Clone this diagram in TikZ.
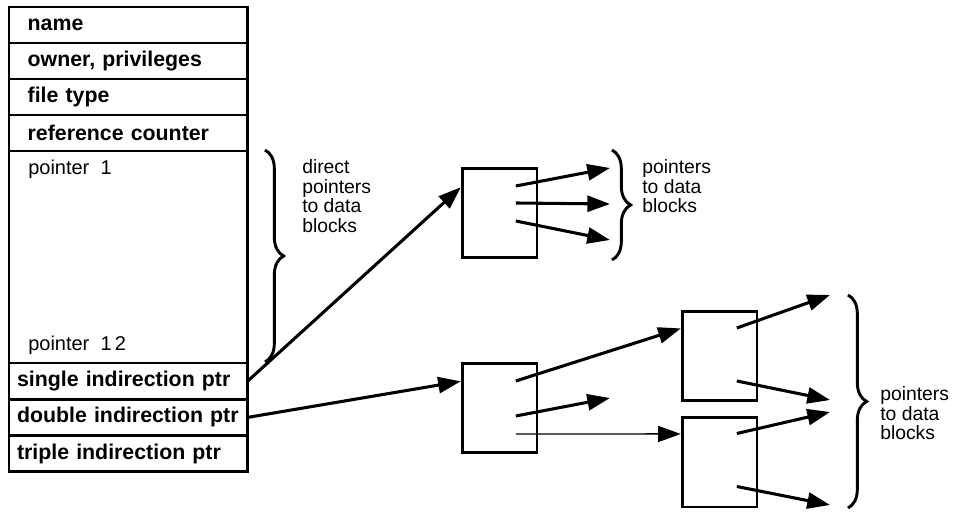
\documentclass[tikz,border=0pt]{standalone}
\usepackage{fontspec}
\setmainfont{Liberation Sans}
\usetikzlibrary{arrows.meta,positioning,calc,decorations.pathreplacing}

\begin{document}
\begin{tikzpicture}[x=0.75pt,y=-0.75pt,>={Triangle[length=17pt,width=12pt]},node distance=0pt]
  \tikzstyle{field}=[draw,line width=2.2pt,outer sep=0pt,text width=151pt,align=left,inner xsep=14pt,inner ysep=0pt,minimum height=27pt,font=\fontsize{16}{18}\selectfont\bfseries]
  \tikzstyle{lowfield}=[field,text width=167pt,inner xsep=6pt,minimum height=27.2pt]
  \tikzstyle{blk}=[draw,line width=2pt,minimum width=56pt,minimum height=67pt]
  \tikzstyle{ptr}=[->,line width=2.3pt]
  \tikzstyle{note}=[align=left,inner sep=0pt,font=\fontsize{14.5}{14.8}\selectfont]
  \tikzstyle{brc}=[decorate,decoration={brace,amplitude=14pt},line width=2.2pt]
  \useasboundingbox (0,0) rectangle (965,513);
  % inode table
  \node[field,anchor=north west] (name) at (9,7) {name};
  \node[field,below=of name] (owner) {owner, privileges};
  \node[field,below=of owner] (ftype) {file type};
  \node[field,below=of ftype] (refcnt) {reference counter};
  \node[field,below=of refcnt,minimum height=159pt] (ptrs) {};
  \node[lowfield,below=of ptrs] (single) {single indirection ptr};
  \node[lowfield,below=of single] (double) {double indirection ptr};
  \node[lowfield,below=of double] (triple) {triple indirection ptr};
  \node[anchor=north west,inner sep=0pt,font=\fontsize{15}{16}\selectfont] (p1) at ([shift={(19,9)}]ptrs.north west) {pointer\ \ 1};
  \node[anchor=south west,inner sep=0pt,font=\fontsize{15}{16}\selectfont] (p12) at ([shift={(19,-8)}]ptrs.south west) {pointer\ \ 1\,2};
  % braces and their labels
  \draw[brc] (265,150) -- (265,362);
  \node[note,anchor=north west] (dtext) at (302,159) {direct\\pointers\\to data\\blocks};
  \draw[brc] (612,150) -- (612,260);
  \node[note,anchor=north west] (atext) at (642,159) {pointers\\to data\\blocks};
  \draw[brc] (848,295) -- (848,508);
  \node[note,anchor=north west] (ctext) at (880,386) {pointers\\to data\\blocks};
  % indirect blocks
  \node[blk] (ba) at (499.5,213) {};
  \node[blk] (bb) at (499.5,408) {};
  \node[blk] (bc) at (719.5,356) {};
  \node[blk] (bd) at (719.5,462.5) {};
  % free arrow ends
  \coordinate (a1) at (610,168);
  \coordinate (a2) at (610,204);
  \coordinate (a3) at (610,240);
  \coordinate (b2) at (610,398);
  \coordinate (c1) at (830,295);
  \coordinate (c2) at (830,400);
  \coordinate (d1) at (830,412);
  \coordinate (d2) at (830,505);
  % connectors
  \draw[ptr] (single.east) -- ($(ba.north west)!0.22!(ba.south west)$);
  \draw[ptr] (double.east) -- ($(bb.north west)!0.21!(bb.south west)$);
  \draw[ptr] ([shift={(55,19)}]ba.north west) -- (a1);
  \draw[ptr] ([shift={(55,36)}]ba.north west) -- (a2);
  \draw[ptr] ([shift={(55,54)}]ba.north west) -- (a3);
  \draw[ptr] ([shift={(55,19)}]bb.north west) -- ($(bc.north west)!0.2!(bc.south west)$);
  \draw[ptr] ([shift={(55,54)}]bb.north west) -- (b2);
  \draw[->,line width=1.1pt] ([shift={(55,72)}]bb.north west) -- ($(bd.north west)!0.19!(bd.south west)$);
  \draw[ptr] ([shift={(56,18)}]bc.north west) -- (c1);
  \draw[ptr] ([shift={(56,71)}]bc.north west) -- (c2);
  \draw[ptr] ([shift={(56,17)}]bd.north west) -- (d1);
  \draw[ptr] ([shift={(56,70)}]bd.north west) -- (d2);
\end{tikzpicture}
\end{document}
